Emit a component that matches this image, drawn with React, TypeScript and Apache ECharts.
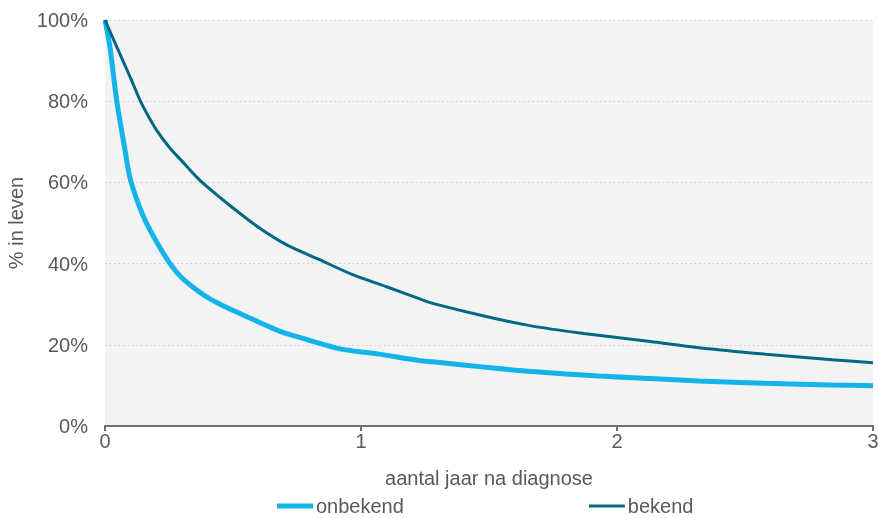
import React, { useEffect, useRef } from "react";
import * as echarts from "echarts";

const seriesNames = ["onbekend", "bekend"];
const xTicks = [0, 1, 2, 3];

const onbekendYears = [0, 0.02, 0.046, 0.078, 0.1, 0.15, 0.2, 0.254, 0.3, 0.358, 0.41, 0.488, 0.566, 0.6, 0.684, 0.75, 0.814, 0.918, 1.07, 1.23, 1.28, 1.48, 1.67, 1.93, 2.13, 2.32, 2.58, 2.84, 3.0];
const onbekendValues = [100, 93, 80, 68, 60.5, 51.6, 45.5, 40, 36.5, 33.5, 31.3, 28.8, 26.6, 25.6, 23.3, 22, 20.8, 19.0, 17.7, 16.1, 15.8, 14.5, 13.4, 12.3, 11.7, 11.1, 10.5, 10.1, 9.9];

const bekendYears = [0, 0.05, 0.1, 0.137, 0.163, 0.2, 0.254, 0.3, 0.371, 0.43, 0.488, 0.605, 0.71, 0.84, 0.97, 1.1, 1.23, 1.28, 1.48, 1.67, 1.87, 2.13, 2.32, 2.58, 2.84, 3.0];
const bekendValues = [100, 92.8, 85.7, 80.2, 77, 73, 68.4, 65.3, 60.5, 57.3, 54.3, 48.7, 44.6, 40.9, 37.2, 34.3, 31.3, 30.2, 27.1, 24.6, 22.8, 20.8, 19.3, 17.7, 16.3, 15.6];

const LIGHT = "#12b4e9";
const DARK = "#006882";
const TEXT = "#595959";
const FONT = "Liberation Sans, Arial, sans-serif";
const FS = 20;

export default function App() {
  const ref = useRef<HTMLDivElement>(null);
  useEffect(() => {
    if (!ref.current) return;
    const chart = echarts.init(ref.current, undefined, { renderer: "svg" });
    const pair = (xs: number[], ys: number[]) => xs.map((x, i) => [x, ys[i]]);
    chart.setOption({
      animation: false,
      textStyle: { fontFamily: FONT },
      grid: {
        left: 105,
        right: 5,
        top: 20,
        bottom: 92,
        outerBoundsMode: "none",
        containLabel: false,
        show: true,
        backgroundColor: "#f3f3f3",
        borderWidth: 0,
      },
      legend: {
        left: 272,
        top: 494,
        padding: [2, 5, 2, 5],
        itemGap: 185,
        itemWidth: 36,
        itemHeight: 5,
        textStyle: { color: TEXT, fontSize: FS, fontFamily: FONT, padding: [0, 0, 0, -2] },
        data: [
          { name: seriesNames[0], icon: "path://M0,0H36V5H0Z", itemStyle: { color: LIGHT } },
          { name: seriesNames[1], icon: "path://M0,1H36V4H0Z", itemStyle: { color: DARK } },
        ],
      },
      xAxis: {
        type: "value",
        min: 0,
        max: 3,
        interval: 1,
        name: "aantal jaar na diagnose",
        nameLocation: "middle",
        nameGap: 42,
        nameTextStyle: { color: TEXT, fontSize: FS, fontFamily: FONT },
        axisLine: { show: true, lineStyle: { color: "#6f6f6f", width: 2 } },
        axisTick: { show: true, length: 5, lineStyle: { color: "#6f6f6f", width: 2 } },
        axisLabel: {
          color: TEXT,
          fontSize: FS,
          fontFamily: FONT,
          margin: 5,
          formatter: (v: number) => (xTicks.includes(v) ? String(v) : ""),
        },
        splitLine: { show: false },
      },
      yAxis: {
        type: "value",
        min: 0,
        max: 100,
        interval: 20,
        name: "% in leven",
        nameLocation: "middle",
        nameGap: 77,
        nameRotate: 90,
        nameTextStyle: { color: TEXT, fontSize: FS, fontFamily: FONT },
        axisLine: { show: false },
        axisTick: { show: false },
        axisLabel: { color: TEXT, fontSize: FS, fontFamily: FONT, margin: 17, formatter: "{value}%" },
        splitLine: { show: true, lineStyle: { color: "#c9c9c9", type: [1.5, 3], width: 1 } },
      },
      series: [
        {
          name: seriesNames[0],
          type: "line",
          data: pair(onbekendYears, onbekendValues),
          smooth: 0.3,
          showSymbol: false,
          lineStyle: { color: LIGHT, width: 5 },
          itemStyle: { color: LIGHT },
          z: 2,
        },
        {
          name: seriesNames[1],
          type: "line",
          data: pair(bekendYears, bekendValues),
          smooth: 0.3,
          showSymbol: false,
          lineStyle: { color: DARK, width: 3 },
          itemStyle: { color: DARK },
          z: 3,
        },
      ],
    });
    return () => chart.dispose();
  }, []);
  return <div ref={ref} style={{ width: 878, height: 518, position: "fixed", left: 0, top: 0 }} />;
}
